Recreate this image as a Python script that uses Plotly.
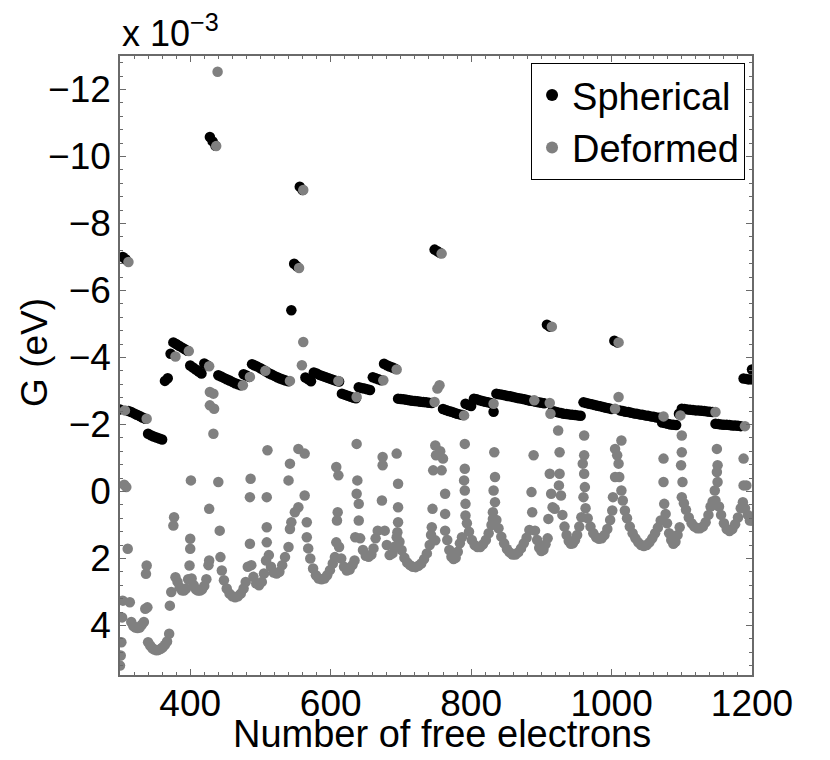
import plotly.graph_objects as go

# G is given in units of 1e-3 eV (the y axis carries the "x 10^-3" factor)

# spherical clusters, one value every 4 electrons from 300 to 1200
n_sph = list(range(300, 1201, 4))
g_sph = [
    -2.45, -7.00, -6.93, -2.40, -2.37, -2.33, -2.29, -2.25, -2.21, -2.17,
    -1.72, -1.68, -1.64, -1.61, -1.58, -1.55, -3.30, -3.38, -4.11, -4.45,
    -4.40, -4.35, -4.30, -4.25, -4.20, -3.76, -3.70, -3.64, -3.58, -3.52,
    -3.82, -3.77, -10.58, -10.45, -10.32, -3.47, -3.43, -3.39, -3.35, -3.31,
    -3.27, -3.23, -3.20, -3.17, -3.50, -3.46, -3.42, -3.80, -3.76, -3.72,
    -3.68, -3.63, -3.58, -3.53, -3.49, -3.45, -3.41, -3.37, -3.34, -3.31,
    -3.29, -5.41, -6.80, -6.72, -9.10, -9.00, -3.40, -3.35, -3.29, -3.55,
    -3.52, -3.48, -3.45, -3.42, -3.39, -3.36, -3.33, -3.30, -3.28, -2.92,
    -2.89, -2.86, -2.83, -2.80, -2.78, -3.11, -3.09, -3.07, -3.05, -3.03,
    -3.41, -3.38, -3.35, -3.32, -3.81, -3.77, -3.73, -3.70, -3.66, -2.77,
    -2.76, -2.75, -2.74, -2.72, -2.71, -2.70, -2.69, -2.68, -2.67, -2.66,
    -2.65, -2.64, -7.22, -7.17, -7.12, -2.46, -2.43, -2.40, -2.38, -2.35,
    -2.32, -2.30, -2.28, -2.62, -2.58, -2.55, -2.77, -2.75, -2.72, -2.70,
    -2.68, -2.66, -2.64, -2.38, -2.92, -2.90, -2.89, -2.87, -2.85, -2.84,
    -2.82, -2.80, -2.78, -2.77, -2.75, -2.73, -2.71, -2.70, -2.68, -2.66,
    -2.65, -2.63, -4.98, -4.92, -2.40, -2.38, -2.36, -2.34, -2.32, -2.31,
    -2.30, -2.29, -2.28, -2.27, -2.26, -2.66, -2.64, -2.62, -2.60, -2.58,
    -2.56, -2.54, -2.52, -2.50, -2.48, -2.46, -4.50, -4.45, -2.42, -2.40,
    -2.38, -2.37, -2.35, -2.33, -2.32, -2.30, -2.29, -2.27, -2.26, -2.24,
    -2.23, -2.21, -2.20, -2.06, -2.04, -2.02, -2.00, -1.99, -1.98, -2.32,
    -2.47, -2.46, -2.45, -2.44, -2.43, -2.42, -2.42, -2.41, -2.40, -2.39,
    -2.38, -2.37, -2.02, -2.01, -2.00, -1.99, -1.99, -1.98, -1.97, -1.97,
    -1.96, -1.95, -3.37, -3.36, -3.34, -3.64,
]

# deformed clusters (same line layout in both lists)
n_def = [
    300, 301, 302, 303, 304, 306, 307, 309, 311, 312, 314,
    316, 319, 322, 325, 328, 331, 334,
    336, 337, 338, 338, 339,
    340, 343, 346, 349, 352, 355, 358, 361, 364, 367, 370,
    371, 373, 376, 377, 379,
    379, 382, 385, 388, 391, 394, 397,
    398, 399, 400, 400, 401,
    402, 405, 408, 411, 414, 417, 420, 423, 426,
    427, 427, 427, 428, 428, 433, 433, 434, 437, 439, 440, 442, 443,
    445, 448, 452, 456, 460, 464, 468, 472, 476, 479, 482,
    475, 485, 485, 485, 486,
    487, 490, 494, 498, 502, 505, 508,
    507, 509, 509, 509, 510,
    512, 515, 519, 523, 527, 531, 535,
    540, 540, 542, 542, 542, 544, 549, 554, 554, 555, 559, 561, 561, 563, 563, 566, 566,
    568, 571, 575, 579, 583, 587, 591, 595, 599, 603, 606,
    608, 609, 610, 608, 611, 611,
    612, 615, 619, 623, 627, 631, 634,
    635, 637, 637, 638, 637, 640, 640,
    642, 646, 650, 654, 658, 661, 664,
    667, 673, 674, 674, 675,
    677, 680, 684, 688, 691, 694,
    694, 694, 696, 696, 696, 695,
    698, 701, 705, 709, 713, 717, 721, 725, 729, 733, 737, 741, 743,
    744, 745, 746, 748, 749, 749, 750, 752, 755, 756, 758, 758, 760, 763, 763, 763,
    766, 769, 772, 775, 778, 781, 784, 787,
    790, 791, 791, 790, 791, 792, 792,
    794, 797, 801, 805, 809, 813, 817, 821, 825, 829,
    831, 831, 832, 832, 833, 834, 834,
    836, 839, 843, 847, 851, 855, 859, 863, 867, 871, 875, 879, 883,
    886, 887, 889, 890,
    891, 894, 897, 900, 903, 906, 909,
    910, 912, 912, 913, 914, 915, 916, 919, 924, 925, 926, 926, 928,
    930, 933, 936, 939, 942, 945, 948, 951, 954, 957,
    959, 960, 961, 961, 961, 962,
    963, 966, 970, 974, 978, 982, 986, 990, 994, 998, 1001,
    1002, 1005, 1005, 1005, 1008, 1010, 1010, 1010, 1011, 1014, 1014, 1016,
    1019, 1022, 1026, 1030, 1034, 1038, 1042, 1046, 1050, 1054, 1058, 1062, 1066, 1070,
    1074, 1074, 1074, 1075, 1077,
    1079, 1082, 1085, 1088, 1091, 1094, 1097,
    1098, 1100, 1100, 1099, 1101, 1100,
    1103, 1106, 1110, 1114, 1118, 1122, 1126, 1130, 1134, 1138, 1141, 1144,
    1147, 1148, 1148, 1150, 1150, 1151, 1151,
    1153, 1156, 1160, 1164, 1168, 1172, 1176, 1180, 1184,
    1187, 1188, 1188, 1190, 1190, 1192, 1194, 1197, 1200,
]
g_def = [
    5.20, 4.90, 4.50, 3.76, 3.26, -0.20, -2.42, -0.13, 1.71, -6.85, 3.31,
    3.90, 4.02, 4.06, 4.08, 4.06, 3.98, 3.90,
    3.50, 2.46, 2.21, -2.17, 3.46,
    4.50, 4.60, 4.68, 4.72, 4.74, 4.73, 4.70, 4.65, 4.58, 4.48, 4.25,
    3.41, 3.00, 1.02, 0.77, -4.03,
    2.56, 2.70, 2.86, 2.95, 2.96, 2.90, 2.62,
    -4.19, 2.21, 1.71, 1.41, -0.33,
    2.60, 2.80, 2.92, 2.96, 2.96, 2.92, 2.82, 2.62, 2.20,
    2.06, 0.52, -3.74, -2.97, -2.57, -2.92, -1.72, -2.47, -10.31, -12.53, -0.28, 1.17, 1.96,
    2.36, 2.65, 2.90, 3.05, 3.13, 3.16, 3.13, 3.05, 2.90, 2.70, 2.25,
    -3.17, -3.42, 1.56, 0.17, -0.38,
    2.20, 2.55, 2.75, 2.80, 2.70, 2.45, 2.06,
    -3.60, 1.52, 1.07, 0.17, -1.23,
    1.90, 2.25, 2.42, 2.45, 2.40, 2.20, 1.96,
    1.66, -0.33, -0.83, 1.12, -3.30, 0.92, 0.62, 0.47, -1.27, -6.67, -3.77, -4.46, -9.00, -1.13, 0.12, 0.92, 1.37,
    1.70, 2.00, 2.30, 2.50, 2.60, 2.62, 2.60, 2.50, 2.35, 2.15, 1.96,
    1.52, 0.87, 0.62, -0.73, -0.48, -3.30,
    1.66, 2.00, 2.25, 2.36, 2.33, 2.20, 2.06,
    1.37, -2.82, -1.42, -0.33, 0.07, 0.37, 0.87,
    1.40, 1.75, 1.92, 1.95, 1.88, 1.70, 1.40,
    1.17, 0.27, -0.78, -1.03, -3.32,
    1.17, 1.60, 1.90, 1.85, 1.65, 1.37,
    -3.64, -1.13, -0.23, 0.47, 0.92, 1.22,
    1.50, 1.75, 1.98, 2.12, 2.20, 2.25, 2.26, 2.22, 2.15, 2.02, 1.85, 1.60, 1.30,
    1.07, 0.52, -0.63, -2.67, 1.46, -1.37, -1.08, -3.07, -3.17, -1.20, -7.10, -0.63, -0.98, 0.07, 0.67, 1.17,
    1.45, 1.75, 1.95, 2.02, 1.98, 1.80, 1.55, 1.37,
    -2.27, -1.42, -0.68, -0.33, -0.03, 0.37, 0.72,
    0.95, 1.20, 1.45, 1.60, 1.66, 1.66, 1.58, 1.45, 1.25, 1.00,
    0.82, 0.62, -2.62, -0.03, -1.17, -0.43, 0.32,
    0.85, 1.10, 1.35, 1.55, 1.72, 1.82, 1.88, 1.88, 1.82, 1.70, 1.55, 1.38, 1.15,
    0.02, 0.62, -1.08, -2.72,
    1.17, 1.45, 1.68, 1.78, 1.74, 1.58, 1.40,
    0.82, -2.64, -0.53, -2.32, 0.07, -4.92, 0.47, 0.52, -1.82, -0.18, -1.17, -0.53, 0.12,
    0.70, 1.05, 1.30, 1.48, 1.56, 1.55, 1.45, 1.30, 1.05, 0.77,
    -0.83, 0.17, -1.67, -1.08, -0.53, -0.13,
    0.50, 0.80, 1.05, 1.25, 1.37, 1.41, 1.40, 1.30, 1.12, 0.85, 0.57,
    0.17, -2.47, -1.27, -0.43, -1.08, -2.82, -0.83, -4.45, -0.43, -1.52, -0.03, 0.27,
    0.57, 0.80, 1.05, 1.25, 1.40, 1.52, 1.60, 1.63, 1.60, 1.52, 1.40, 1.25, 1.08, 0.87,
    -2.24, -0.98, -0.28, 0.37, 0.67,
    0.95, 1.25, 1.45, 1.56, 1.50, 1.30, 1.07,
    -2.27, -1.67, -1.17, -0.78, -0.28, 0.17,
    0.35, 0.55, 0.78, 0.95, 1.05, 1.10, 1.10, 1.05, 0.92, 0.70, 0.45, 0.30,
    -0.03, 0.27, -2.37, -1.27, -0.58, -0.78, -0.28,
    0.45, 0.70, 0.95, 1.12, 1.18, 1.12, 0.98, 0.78, 0.50,
    0.32, -0.98, -0.18, -1.95, 0.50, -0.18, 0.70, 0.87, 0.87,
]

FONT = "Liberation Sans, Arial, Helvetica, sans-serif"
FRAME = "#6a6a6a"
DOT = 10.5

fig = go.Figure()
fig.add_trace(go.Scatter(x=n_sph, y=g_sph, mode="markers", name="Spherical",
                         marker=dict(color="black", size=DOT)))
fig.add_trace(go.Scatter(x=n_def, y=g_def, mode="markers", name="Deformed",
                         marker=dict(color="#808080", size=DOT)))

axis_style = dict(
    showline=True, linecolor=FRAME, linewidth=1.5, mirror="ticks",
    ticks="inside", ticklen=6, tickwidth=1, tickcolor=FRAME,
    showgrid=False, zeroline=False,
    tickfont=dict(family=FONT, size=37, color="black"),
)
fig.update_xaxes(range=[300, 1200], tick0=0, dtick=200, ticklabelstandoff=-5,
                 minor=dict(dtick=20, ticks="inside", ticklen=3, tickcolor=FRAME),
                 **axis_style)
fig.update_yaxes(range=[5.48, -13], tick0=0, dtick=2,
                 minor=dict(dtick=0.4, ticks="inside", ticklen=3, tickcolor=FRAME),
                 **axis_style)

# the page body adds 8 px at the top-left, so the margins are trimmed by that
fig.update_layout(
    width=830, height=760,
    margin=dict(l=112, r=86, t=48, b=93),
    plot_bgcolor="white", paper_bgcolor="white",
    font=dict(family=FONT, color="black"),
    legend=dict(x=0.989, y=0.989, xanchor="right", yanchor="top",
                bgcolor="white", bordercolor="black", borderwidth=1,
                font=dict(family=FONT, size=38), itemsizing="constant"),
    annotations=[
        dict(text="x 10<sup>−3</sup>", xref="paper", yref="paper", x=0, y=1,
             xanchor="left", yanchor="bottom", showarrow=False,
             font=dict(family=FONT, size=36)),
        dict(text="Number of free electrons", xref="paper", yref="paper",
             x=0.5095, y=-0.096, xanchor="center", yanchor="middle",
             showarrow=False, font=dict(family=FONT, size=38)),
        dict(text="G (eV)", xref="paper", yref="paper", x=-0.1345, y=0.522,
             xanchor="center", yanchor="middle", textangle=-90,
             showarrow=False, font=dict(family=FONT, size=37)),
    ],
)

fig.write_html("out.html")
